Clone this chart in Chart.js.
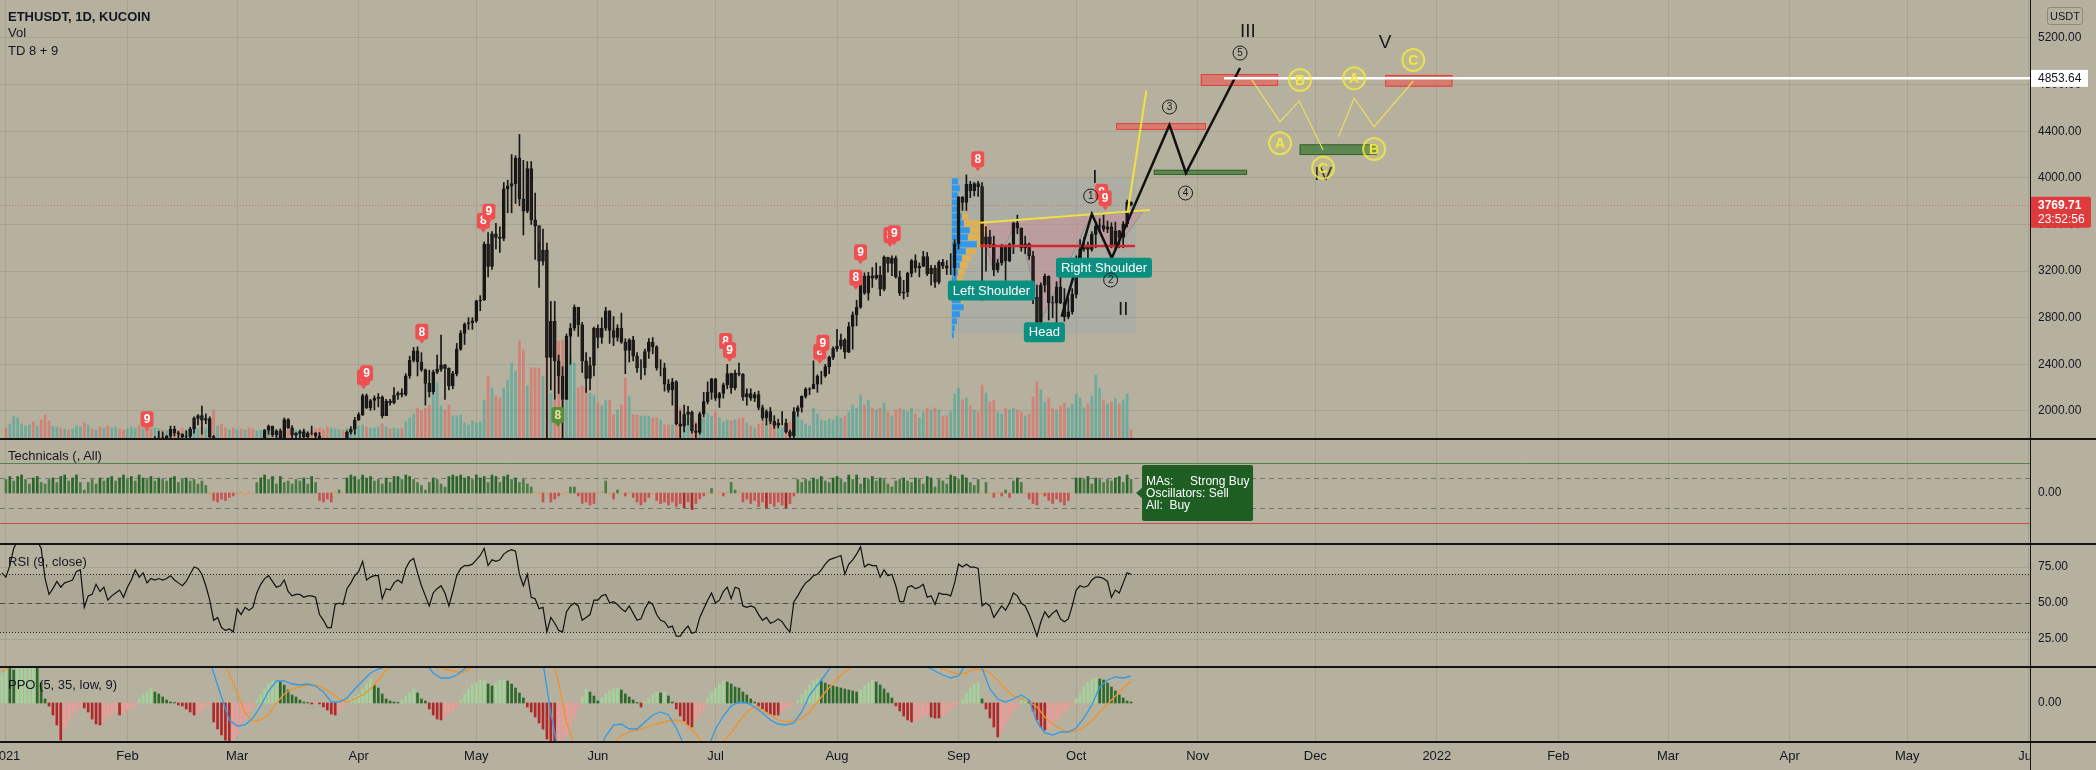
<!DOCTYPE html>
<html>
<head>
<meta charset="utf-8">
<title>ETHUSDT 1D</title>
<script src="https://cdn.jsdelivr.net/npm/chart.js@4.4.1/dist/chart.umd.min.js"></script>
<style>
  html, body { margin: 0; padding: 0; background: #b5b19e; }
  #wrap { position: relative; width: 2096px; height: 770px; overflow: hidden; background: #b5b19e;
          font-family: "Liberation Sans", Arial, sans-serif; color: #131722; }
  #wrap canvas { position: absolute; left: 0; }
  .sep { position: absolute; left: 0; width: 2096px; height: 2px; background: #141414; }
  .vline { position: absolute; left: 2030px; top: 0; width: 1px; height: 770px; background: #141414; }
  .txt { position: absolute; left: 8px; font-size: 13px; line-height: 16px; white-space: pre; }
  .usdt { position: absolute; left: 2047px; top: 7px; width: 34px; height: 16px; border: 1px solid rgba(0,0,0,0.22);
          border-radius: 3px; font-size: 11px; line-height: 16px; text-align: center; }
</style>
</head>
<body>
<div id="wrap">
  <canvas id="cMain" width="2096" height="438" style="top:0"></canvas>
  <canvas id="cTech" width="2096" height="104" style="top:440px"></canvas>
  <canvas id="cRsi" width="2096" height="122" style="top:545px"></canvas>
  <canvas id="cPpo" width="2096" height="102" style="top:668px"></canvas>
  <div class="sep" style="top:438px"></div>
  <div class="sep" style="top:543px"></div>
  <div class="sep" style="top:666px"></div>
  <div class="sep" style="top:741px"></div>
  <div class="vline"></div>
  <div class="txt" style="top:9px;font-weight:bold">ETHUSDT, 1D, KUCOIN</div>
  <div class="txt" style="top:25px">Vol</div>
  <div class="txt" style="top:43px">TD 8 + 9</div>
  <div class="txt" style="top:448px">Technicals (, All)</div>
  <div class="txt" style="top:554px">RSI (9, close)</div>
  <div class="txt" style="top:677px">PPO (5, 35, low, 9)</div>
  <div class="usdt">USDT</div>
</div>
<script>
// ---- time axis: x is the day number counted from 1 Jan 2021 ----
const monthTickDays = [0, 31, 59, 90, 120, 151, 181, 212, 243, 273, 304, 334, 365, 396, 424, 455, 485, 516];
const monthTickLabels = ['2021', 'Feb', 'Mar', 'Apr', 'May', 'Jun', 'Jul', 'Aug', 'Sep', 'Oct', 'Nov', 'Dec', '2022', 'Feb', 'Mar', 'Apr', 'May', 'Jun'];
const xMinDay = -1.5;
const xMaxDay = 516.3;

// ---- daily candles, 1 Jan .. 15 Oct 2021 ----
const firstOpen = 737;
const closes = [
  730,775,979,1041,1100,1208,1225,1224,1281,1262,1090,1044,1130,1218,1171,1233,1230,1257,1377,1382,1121,1236,1231,1392,1324,1357,1253,1331,1382,1377,1312,
  1374,1510,1660,1594,1718,1677,1614,1750,1770,1744,1784,1843,1813,1800,1780,1781,1845,1937,1960,1920,1934,1780,1571,1624,1475,1447,1460,1417,
  1565,1493,1575,1540,1532,1655,1723,1835,1870,1797,1826,1771,1926,1855,1792,1808,1823,1780,1811,1810,1785,1681,1670,1585,1594,1700,1714,1685,1818,1843,1920,
  1968,2133,2028,2090,2108,2116,1960,2084,2071,2135,2153,2141,2301,2434,2515,2420,2353,2237,2165,2333,2357,2395,2365,2215,2320,2531,2666,2746,2757,2773,
  2945,2950,3430,3240,3520,3490,3480,3905,3930,3950,4170,3820,3715,4080,3640,3590,3285,3380,2460,2770,2430,2300,2100,2640,2710,2890,2740,2430,2280,2390,2710,
  2630,2710,2860,2690,2630,2710,2590,2520,2610,2470,2370,2370,2510,2590,2550,2370,2370,2230,2180,2250,1890,1870,1970,1990,1830,1815,1975,2080,2160,2275,
  2110,2150,2225,2320,2200,2325,2315,2120,2150,2110,2140,2030,1940,1995,1910,1875,1895,1895,1820,1785,1995,2030,2125,2185,2190,2230,2300,2300,2380,2460,2535,
  2555,2610,2505,2725,2825,2890,3155,3010,3160,3140,3165,3045,3320,3265,3310,3150,3010,3020,3180,3290,3225,3240,3325,3175,3225,3105,3275,3245,3225,3225,3435,
  3835,3790,3945,3890,3950,3925,3430,3495,3430,3210,3270,3410,3290,3430,3610,3570,3400,3435,3330,2975,2760,3080,3155,2930,2925,3065,2930,2810,2850,3000,
  3310,3390,3420,3385,3515,3585,3590,3560,3580,3420,3545,3490,3605,3790,3769.71
];
const highs = [
  749,787,1010,1150,1130,1210,1280,1270,1300,1350,1265,1150,1140,1250,1250,1290,1250,1260,1440,1395,1390,1260,1270,1400,1475,1370,1375,1350,1430,1385,1380,
  1378,1540,1665,1695,1730,1750,1700,1780,1825,1820,1790,1870,1870,1825,1805,1830,1860,1950,1970,2042,1975,1950,1790,1710,1670,1550,1530,1480,
  1570,1600,1645,1610,1550,1675,1730,1840,1880,1870,1840,1845,1940,1935,1875,1815,1835,1845,1820,1870,1815,1815,1725,1740,1620,1706,1730,1725,1830,1865,1945,
  1985,2145,2145,2100,2130,2150,2130,2100,2100,2200,2165,2190,2320,2470,2545,2550,2500,2360,2350,2350,2480,2650,2400,2370,2340,2580,2690,2755,2800,2800,
  2950,2990,3450,3530,3540,3610,3580,3960,3980,4200,4190,4372,4150,4140,4140,3870,3450,3560,3440,2940,2940,2480,2380,2660,2750,2910,2890,2760,2500,2460,2720,
  2740,2800,2890,2860,2810,2740,2840,2620,2620,2640,2500,2440,2530,2620,2630,2560,2440,2410,2270,2280,2260,2000,2050,2040,2000,1890,1990,2160,2250,2280,
  2280,2160,2240,2400,2325,2350,2410,2320,2190,2190,2160,2170,2050,2010,2030,1960,1930,1995,1930,1835,2030,2045,2130,2200,2200,2430,2310,2340,2400,2470,2550,
  2700,2660,2620,2760,2850,2950,3180,3185,3190,3230,3270,3240,3330,3300,3330,3330,3200,3120,3190,3300,3340,3270,3370,3360,3250,3250,3290,3300,3290,3350,3470,
  3840,3840,4025,3970,3960,3970,3960,3580,3550,3500,3300,3430,3400,3440,3620,3680,3570,3500,3440,3370,3080,3100,3175,3160,2985,3110,3170,3050,2970,3050,
  3330,3470,3490,3450,3540,3620,3650,3680,3630,3615,3620,3550,3625,3810,3795
];
const lows = [
  716,714,765,900,990,1060,1170,1140,1190,1160,900,1010,1020,1110,1080,1160,1155,1180,1255,1260,1100,1050,1220,1225,1300,1250,1220,1215,1300,1310,1280,
  1300,1370,1500,1545,1590,1650,1500,1570,1695,1685,1720,1765,1785,1750,1650,1735,1760,1810,1880,1800,1890,1530,1370,1510,1470,1400,1430,1300,
  1410,1460,1485,1500,1440,1520,1630,1710,1800,1780,1770,1730,1750,1850,1770,1730,1765,1760,1770,1795,1740,1670,1660,1580,1548,1590,1680,1670,1680,1800,1800,
  1920,1960,2020,2005,2010,2035,1940,1960,2050,2060,2100,2120,2130,2280,2420,2300,2340,2050,2120,2145,2320,2340,2100,2180,2190,2300,2520,2570,2700,2700,
  2760,2860,2950,3150,3215,3390,3360,3460,3700,3700,3780,3760,3510,3700,3600,3300,3060,3250,1760,2180,2100,2150,1730,2100,2400,2690,2640,2330,2160,2180,2300,
  2540,2580,2690,2580,2560,2600,2580,2320,2420,2430,2330,2270,2310,2450,2490,2350,2300,2170,2160,2050,1880,1700,1820,1880,1810,1720,1800,1950,2060,2100,
  2090,2030,2110,2190,2150,2180,2300,2090,2050,2090,2080,2010,1920,1880,1890,1850,1855,1880,1810,1720,1760,1955,1990,2110,2140,2190,2160,2230,2290,2320,2440,
  2510,2530,2450,2500,2530,2730,2880,3000,2950,3060,3130,2990,3030,3190,3160,3140,2990,2960,2980,3150,3190,3150,3240,3160,3080,3060,3090,3220,3170,3170,3160,
  3390,3720,3720,3830,3845,3840,2950,3200,3400,3160,3190,3250,3120,3280,3350,3520,3370,3350,3300,2920,2740,2740,3020,2780,2800,2750,2920,2770,2790,2830,
  2970,3270,3370,3280,3370,3400,3530,3540,3530,3400,3390,3400,3400,3580,3760
];
// volume, in pixel-height units of the price pane
const volumes = [
  10,14,22,20,14,12,13,16,12,18,23,17,12,11,10,9,8,9,12,11,15,13,9,8,11,10,12,10,11,9,8,
  9,11,10,12,9,8,9,10,9,8,7,8,9,8,10,8,8,10,9,11,10,16,28,12,14,10,8,10,
  8,9,8,10,9,7,8,9,8,7,8,9,10,8,9,8,7,8,7,8,9,10,8,11,10,9,8,8,10,9,11,
  12,13,11,10,10,11,14,11,9,10,9,10,16,20,24,30,27,30,33,53,55,32,28,33,22,22,23,15,13,17,
  15,16,38,62,50,42,40,50,58,75,67,97,88,52,70,70,70,62,80,45,38,97,98,100,82,75,50,52,50,45,43,
  35,32,38,38,23,28,33,60,42,23,23,22,22,22,20,20,18,13,13,13,28,30,25,20,18,16,18,20,25,22,
  26,20,16,18,17,18,19,20,15,12,10,14,16,14,15,16,11,10,14,16,26,22,18,14,12,30,24,18,17,19,18,
  22,20,22,26,33,30,43,33,38,30,28,30,35,26,22,28,30,28,26,30,24,20,26,30,28,30,28,22,22,26,44,
  50,38,40,32,28,26,53,45,36,38,26,24,30,28,30,28,26,22,24,41,56,48,36,40,30,28,32,35,30,34,
  44,40,30,34,42,63,50,38,34,36,39,34,38,44,8
];
const volMax = 438;
const priceMin = 1768;
const priceMax = 5526;
const priceTicks = [2000, 2400, 2800, 3200, 3600, 4000, 4400, 4800, 5200];
const lastPrice = 3769.71;
const countdown = '23:52:56';
const targetPrice = 4853.64;
const targetStartDay = 310.7;

// ---- TD sequential marks ----
const tdDays = [36, 91.2, 92, 106.1, 121.8, 123.2, 140.8, 183.6, 184.6, 207.6, 208.4, 216.8, 218, 225.5, 226.6, 247.9, 279.5, 280.4];
const tdPrices = [1929, 2290, 2323, 2680, 3633, 3710, 1966, 2600, 2523, 2509, 2585, 3144, 3361, 3510, 3524, 4159, 3881, 3825];
const tdTexts = ['9', '8', '9', '8', '8', '9', '8', '8', '9', '8', '9', '8', '9', '8', '9', '8', '8', '9'];
const tdKinds = ['sell', 'sell', 'sell', 'sell', 'sell', 'sell', 'buy', 'sell', 'sell', 'sell', 'sell', 'sell', 'sell', 'sell', 'sell', 'sell', 'sell', 'sell'];

// ---- drawings (day, price) ----
const waveDays = [269.3, 277, 282.1, 296.8, 301, 314.8];
const wavePrices = [2809, 3690, 3313, 4454, 4042, 4943];
const waveLabels = ['1', '2', '3', '4', '5'];
const waveLabelDays = [276.7, 281.8, 296.8, 300.9, 314.8];
const waveLabelPrices = [3844, 3124, 4608, 3870, 5071];
const romanTexts = ['I', 'II', 'III', 'IV', 'V'];
const romanDays = [277.8, 285, 316.8, 336, 351.8];
const romanPrices = [3999, 2866, 5251, 4025, 5157];
const abcTexts = ['A', 'B', 'C', 'A', 'B', 'C'];
const abcDays = [325, 330.1, 336, 343.9, 349, 359];
const abcPrices = [4297, 4840, 4087, 4854, 4248, 5011];
const abcPath1Days = [317.8, 325, 329.9, 336];
const abcPath1Prices = [4840, 4482, 4660, 4239];
const abcPath2Days = [339.9, 343.9, 349, 359];
const abcPath2Prices = [4353, 4683, 4439, 4831];
const breakoutDays = [286.1, 290.9];
const breakoutPrices = [3699, 4751];
const necklineDays = [248.5, 291.8];
const necklinePrices = [3615, 3724];
const pocDays = [248.5, 288];
const pocPrice = 3416;
const zoneDays0 = [283.2, 292.8, 304.8, 351.8, 330];
const zoneDays1 = [306.1, 316.6, 324.5, 369, 349.7];
const zoneTops = [4470, 4069, 4891, 4883, 4288];
const zoneBottoms = [4411, 4025, 4788, 4782, 4196];
const zoneKinds = ['sell', 'buy', 'sell', 'sell', 'buy'];
const patternTexts = ['Left Shoulder', 'Head', 'Right Shoulder'];
const patternDays = [251.4, 264.9, 280.1];
const patternPrices = [3034, 2676, 3228];
const hsDays = [248.5, 251.8, 257.8, 264.5, 277, 281.6, 290];
const hsPrices = [3615, 3210, 3624, 2809, 3690, 3313, 3710];
const boxDays = [241.3, 288.3];
const boxPrices = [3999, 2661];
const vpTop = 4000;
const vpStep = 60;
const vpDaysPerUnit = 0.255;
const vpUp = [6, 8, 6, 8, 7, 10, 12, 18, 16, 25, 14, 10, 8, 6, 5, 4, 6, 9, 12, 8, 5, 3, 2];
const vpDown = [0, 0, 0, 0, 2, 6, 22, 18, 16, 10, 10, 9, 8, 7, 6, 5, 3, 2, 1, 0, 0, 0, 0];

// ---- Technicals rating, day 0 .. 287 ----
const techValues = [
  0.45,0.55,0.4,0.55,0.6,0.45,0.3,0.5,0.55,0.35,0.3,0.45,0.5,0.35,0.55,0.6,0.4,0.5,0.6,0.35,0.1,0.35,0.45,0.3,0.5,0.4,0.5,0.55,0.4,0.5,0.6,0.45,0.55,0.4,0.6,0.5,0.45,0.55,0.4,0.5,0.45,0.4,0.5,0.55,0.35,0.45,0.5,0.4,0.45,0.3,0.4,0.25,
  -0.05,-0.25,-0.3,-0.2,-0.25,-0.15,-0.1,-0.05,0.05,-0.05,0.05,-0.03,
  0.35,0.5,0.6,0.45,0.55,0.3,0.55,0.35,0.4,0.3,0.45,0.4,0.5,0.3,0.55,0.35,
  -0.25,-0.3,-0.2,-0.3,0.05,0.1,0.03,
  0.5,0.6,0.55,0.45,0.6,0.5,0.55,0.4,0.45,
  0.3,0.5,0.35,0.55,0.55,0.45,0.6,0.55,0.45,0.35,0.25,0.1,0.35,0.5,0.45,0.3,0.2,0.55,0.6,0.55,0.6,0.5,0.55,0.45,0.6,0.5,0.55,0.35,0.6,0.55,0.35,0.55,0.6,0.45,0.5,0.35,0.45,0.3,0.2,0.05,
  -0.05,-0.3,-0.05,-0.3,-0.2,-0.1,-0.05,0.05,0.2,0.2,-0.1,-0.35,-0.3,-0.4,-0.35,
  0.02,0.05,0.4,-0.05,-0.2,0.1,-0.03,-0.1,0.03,-0.15,-0.3,-0.4,-0.3,-0.15,-0.05,
  -0.25,-0.35,-0.3,-0.4,-0.3,-0.45,-0.35,-0.5,-0.3,-0.55,-0.35,-0.2,-0.1,
  0.03,0.15,-0.03,0.05,-0.1,0.02,0.35,0.1,0.05,
  -0.3,-0.2,-0.35,-0.25,-0.45,-0.3,-0.5,-0.35,-0.45,-0.3,-0.4,-0.5,-0.35,-0.1,
  0.45,0.35,0.45,0.4,0.5,0.45,0.55,0.4,0.35,0.5,0.55,0.45,0.35,0.6,0.45,0.6,0.3,0.5,0.45,0.55,0.4,0.5,0.45,0.3,0.2,0.4,0.45,0.5,0.4,0.35,0.5,0.45,0.3,0.55,0.5,0.2,0.45,0.4,0.3,0.6,0.55,0.45,0.6,0.5,0.35,0.25,0.45,
  0.02,0.35,-0.03,-0.15,0.05,-0.1,0.1,-0.15,0.4,0.5,0.35,
  -0.03,-0.2,-0.35,-0.4,-0.05,-0.1,-0.25,-0.35,-0.2,-0.3,-0.4,-0.25,
  0.02,
  0.5,0.5,0.45,0.55,0.3,0.5,0.45,0.35,0.45,0.4,0.5,0.55,0.35,0.6,0.45
];
const techLevels = [1, 0.5, -0.5, -1];
const techSummary = ['MAs:     Strong Buy', 'Oscillators: Sell', 'All:  Buy'];

// ---- RSI (9), day -1 .. 287 ----
const rsiStartDay = -1;
const rsiValues = [
  71,68,76,88,93,94,93,92,91,93,88,67,
  56,60,65,61,64,65,66,72,73,47,55,56,63,58,61,52,55,57,59,54,
  61,66,73,68,71,64,67,66,67,66,67,69,66,64,62,65,70,75,74,70,
  62,52,38,40,33,31,32,30,46,42,47,45,47,57,63,67,69,65,61,62,
  66,58,55,56,56,54,55,55,54,42,38,33,33,49,50,49,60,64,69,72,79,66,68,69,69,
  53,60,59,64,66,64,74,79,81,71,62,55,48,57,60,62,57,48,58,69,74,76,76,77,80,
  83,88,76,80,79,80,84,86,87,86,70,62,70,54,53,46,47,30,40,36,31,30,44,48,50,
  48,38,40,42,52,52,55,56,50,51,49,46,44,48,43,38,39,46,51,49,42,38,37,33,34,
  27,27,31,34,29,30,40,46,52,57,50,52,58,61,53,61,60,48,47,48,47,42,38,40,36,
  37,39,37,33,30,51,55,60,64,66,69,70,73,77,80,81,82,83,70,77,80,84,89,75,77,
  76,76,68,73,69,70,62,51,51,61,62,60,61,63,54,55,49,57,56,56,55,64,77,75,77,
  75,75,74,48,50,48,40,44,48,45,50,57,55,50,48,42,35,27,37,44,40,43,45,39,37,
  39,48,59,62,61,62,66,68,68,67,65,54,59,57,64,71,70
];
const rsiTicks = [25, 50, 75];
const rsiUpper = 70;
const rsiMid = 50;
const rsiLower = 30;

// ---- PPO (5, 35, low, 9) ----
const ppoStartDay = -1;
const ppoHist = [
  3.0,3.6,3.5,3.3,3.6,3.8,4.0,4.2,4.4,3.8,2.0,0.4,-0.3,
  -1.2,-2.2,-3.7,-2.6,-1.9,-1.2,-0.9,-0.3,
  -0.5,-0.9,-1.6,-2.1,-2.2,-1.9,-1.4,-1.2,-0.7,-1.2,-1.1,-0.7,-0.5,-0.3,
  0.4,0.8,1.1,1.5,1.1,0.9,0.6,0.3,0.1,0.05,
  -0.2,-0.3,-0.6,-0.9,-1.2,-1.1,-0.7,-0.3,
  -0.2,-1.9,-2.6,-3.2,-3.7,-3.9,-3.7,-3.2,-2.2,-1.6,-1.1,-0.4,
  0.3,0.8,1.4,1.9,2.2,2.3,2.1,1.8,1.3,0.8,0.6,0.3,0.1,0.05,-0.1,-0.05,
  -0.1,-0.4,-0.7,-1.1,-1.2,-0.9,-0.4,-0.1,
  0.4,0.6,0.9,1.4,1.9,2.4,
  1.8,1.5,0.9,0.4,0.2,0.1,0.05,
  0.3,0.7,1.0,1.4,1.0,0.4,0.2,
  -0.6,-1.2,-1.6,-1.7,-1.4,-1.1,-0.8,-0.4,
  0.3,0.9,1.4,1.9,2.0,2.3,2.3,1.9,1.7,2.0,2.3,2.3,2.2,1.9,1.5,1.0,0.5,
  -0.4,-0.9,-1.4,-2.0,-2.6,-3.6,-4.0,-4.2,-4.0,-3.9,-3.2,-2.4,-1.5,-0.5,
  0.6,1.4,1.1,0.7,0.2,
  0.5,0.9,1.2,1.4,1.5,1.3,0.9,0.6,0.3,0.05,
  -0.4,
  0.1,0.4,0.8,1.1,1.0,1.1,0.7,0.1,
  -0.6,-1.3,-1.8,-2.2,-2.4,-1.8,-1.2,-0.6,
  0.5,1.0,1.5,1.9,2.2,2.1,1.9,1.6,1.5,1.1,0.8,0.4,0.1,
  -0.3,-0.6,-0.9,-1.1,-1.2,-1.2,-0.9,-0.6,-0.3,-0.1,
  0.3,0.8,1.3,1.8,2.2,2.4,2.2,2.0,1.8,1.7,1.6,1.5,1.4,1.3,1.2,1.1,
  1.3,1.7,2.0,2.3,2.1,1.8,1.4,1.0,0.5,
  -0.3,-0.8,-1.3,-1.7,-1.9,-1.8,-1.6,-1.3,-1.2,-1.4,-1.5,-1.5,-1.3,-1.1,-0.7,-0.3,-0.1,
  0.4,1.0,1.5,1.9,2.1,0.4,
  -0.6,-1.5,-2.4,-3.4,-2.8,-2.2,-1.5,-0.9,-0.4,
  0.3,0.6,0.2,
  -0.8,-1.7,-2.4,-2.7,-2.6,-2.2,-1.8,-1.4,-1.0,-0.6,-0.2,
  0.4,1.0,1.6,2.1,2.4,2.5,2.4,2.3,2.0,1.6,1.2,0.8,0.5,0.2,0.1
];
// PPO and signal lines, read every second day from day -1
const ppoLineStep = 2;
const ppoLine = [
  9,10,12,13,13,12,10,8,7,6.5,6,5.5,5.5,5.5,5.5,5.5,6.5,7.5,8,8.5,8.5,8,7.5,7,7.5,7.5,5.5,
  3.0,0.6,-1.7,-2.3,-2.2,-1.5,-0.3,1.2,2.2,2.2,1.9,1.8,1.9,1.7,1.1,0.1,0.1,0.5,1.4,2.2,3.0,3.4,
  3.6,4.2,4.8,5,5,4,3.0,2.5,2.5,2.8,3.4,4.5,6,7.5,8,9,10,9.5,8,6.5,4,-1,-5,-7,-7,-7,-6.5,-5,-3.3,-2.2,
  -2.1,-2.6,-2.6,-1.9,-1.2,-0.9,-1.2,-2.5,-4.2,-5,-5,-4.6,-2.6,-1.3,-0.3,0.1,0.0,-0.4,-1.0,-1.7,
  -2.1,-2.2,-2.0,-0.9,0.8,1.8,2.8,4.0,5.5,6.5,7,7.5,7.5,7,6.5,5.5,4.5,4,3.8,3.6,
  3.2,2.8,2.5,2.7,4,5,3.5,1.4,0.4,0.1,0.4,0.8,0.3,-1.9,-3.0,-3.2,-2.9,-2.9,-2.5,-1.5,
  -0.2,1.6,2.3,2.6,2.5,2.7
];
const ppoSignal = [
  3.1,3.6,4.5,6,7.5,8.5,9,9,8.5,8,7.5,7,6.5,6,6,6,6,6.5,7,7.3,7.6,7.8,7.8,7.6,7.5,7.5,7,
  6,4.4,2.9,1.0,-1.0,-1.8,-1.7,-1.2,0.0,0.9,1.4,1.6,1.8,1.8,1.5,1.0,0.4,0.1,0.4,0.8,1.4,2.3,
  3.3,3.7,4.2,4.4,4.5,4.3,3.8,3.5,3.3,3.1,3.1,3.6,4.5,5.5,6.3,7,8,8.5,8.5,8,7,5.0,2.0,-1.9,-4.3,-5.3,-5.8,-5.5,-4.8,-4.0,
  -3.3,-2.9,-2.7,-2.5,-2.2,-2.0,-1.8,-1.7,-1.9,-2.7,-3.6,-4.3,-4.4,-3.8,-3.0,-1.9,-0.9,-0.4,-0.7,-1.2,
  -1.7,-1.9,-1.8,-1.6,-0.9,0.1,1.1,2.0,2.8,3.4,4.2,5,5.5,5.8,6,6,5.8,5.3,4.8,4.3,
  3.8,3.4,3.1,2.9,3.0,3.4,3.3,3.0,2.3,1.4,0.7,0.4,0.1,-0.4,-1.4,-2.1,-2.6,-2.9,-2.8,-2.4,
  -1.8,-0.9,-0.1,0.7,1.5,2.2
];

// ---- look ----
const bg = '#b5b19e';
const gridColor = 'rgba(95,92,80,0.16)';
const textColor = '#131722';
const axisWidth = 66;
const fontFamily = '"Liberation Sans", Arial, sans-serif';

Chart.defaults.font.family = fontFamily;
Chart.defaults.color = textColor;

function xAxis(showLabels) {
  return {
    type: 'linear', min: xMinDay, max: xMaxDay, offset: false,
    afterBuildTicks: s => { s.ticks = monthTickDays.map(v => ({ value: v })); },
    grid: { color: gridColor, drawTicks: false, offset: false },
    border: { display: false },
    ticks: showLabels ? {
      autoSkip: false, maxRotation: 0, padding: 7, color: textColor, font: { size: 13 },
      callback: v => monthTickLabels[monthTickDays.indexOf(v)]
    } : { display: false },
    afterFit: s => { s.height = showLabels ? 28 : 0; s.paddingLeft = 0; s.paddingRight = 0; }
  };
}

function yAxis(min, max, ticks, showGrid) {
  return {
    position: 'right', min, max,
    afterBuildTicks: s => { s.ticks = ticks.map(v => ({ value: v })); },
    grid: { color: gridColor, drawTicks: false, display: showGrid },
    border: { display: false },
    ticks: { color: textColor, font: { size: 12 }, padding: 8, callback: v => v.toFixed(2) },
    afterFit: s => { s.width = axisWidth; s.paddingTop = 0; s.paddingBottom = 0; }
  };
}

const baseOptions = {
  responsive: false, animation: false, devicePixelRatio: 1, events: [],
  layout: { padding: 0, autoPadding: false },
  plugins: { legend: { display: false }, tooltip: { enabled: false } }
};

function points(days, values) {
  return days.map((d, i) => ({ x: d, y: values[i] }));
}

function lineSet(data, color, width) {
  return { type: 'line', data, borderColor: color, borderWidth: width, pointRadius: 0, tension: 0, fill: false, order: 0 };
}

// ---- price pane ----
const opens = closes.map((c, i) => i ? closes[i - 1] : firstOpen);
const isUp = closes.map((c, i) => c >= opens[i]);

function tdMarker(ctx, cx, cy, text, buy) {
  const w = 13, h = 16;
  ctx.fillStyle = buy ? '#5d8c3c' : '#ef4f4f';
  ctx.beginPath(); ctx.roundRect(cx - w / 2, cy - h / 2, w, h, 3); ctx.fill();
  ctx.beginPath(); ctx.moveTo(cx - 3, cy + h / 2); ctx.lineTo(cx + 3, cy + h / 2); ctx.lineTo(cx, cy + h / 2 + 4); ctx.fill();
  ctx.fillStyle = buy ? '#e4e7a6' : '#ffffff';
  ctx.font = 'bold 12px ' + fontFamily;
  ctx.textAlign = 'center'; ctx.textBaseline = 'middle';
  ctx.fillText(text, cx, cy + 0.5);
}

const mainDrawings = {
  id: 'mainDrawings',
  beforeDatasetsDraw(chart) {
    const { ctx, chartArea: a, scales: { x, y } } = chart;
    const px = d => x.getPixelForValue(d), py = p => y.getPixelForValue(p);
    ctx.save();
    ctx.beginPath(); ctx.rect(a.left, a.top, a.width, a.height); ctx.clip();

    // last price line
    const ly = Math.round(py(lastPrice)) + 0.5;
    ctx.strokeStyle = 'rgba(205,70,70,0.6)'; ctx.lineWidth = 1; ctx.setLineDash([1, 2]);
    ctx.beginPath(); ctx.moveTo(a.left, ly); ctx.lineTo(a.right, ly); ctx.stroke();
    ctx.setLineDash([]);

    // fixed range box
    const bx0 = px(boxDays[0]), bx1 = px(boxDays[1]), by0 = py(boxPrices[0]), by1 = py(boxPrices[1]);
    ctx.fillStyle = 'rgba(140,165,180,0.22)';
    ctx.fillRect(bx0, by0, bx1 - bx0, by1 - by0);

    // head and shoulders shading
    ctx.beginPath();
    hsDays.forEach((d, i) => i ? ctx.lineTo(px(d), py(hsPrices[i])) : ctx.moveTo(px(d), py(hsPrices[i])));
    ctx.closePath();
    ctx.fillStyle = 'rgba(222,120,150,0.32)'; ctx.fill();
    ctx.strokeStyle = 'rgba(110,125,135,0.55)'; ctx.lineWidth = 1; ctx.stroke();

    // volume profile rows
    vpUp.forEach((u, i) => {
      const t = py(vpTop - i * vpStep), b = py(vpTop - (i + 1) * vpStep);
      const xu = px(boxDays[0] + u * vpDaysPerUnit);
      const xd = px(boxDays[0] + (u + vpDown[i]) * vpDaysPerUnit);
      ctx.fillStyle = 'rgba(33,150,243,0.9)'; ctx.fillRect(bx0, t + 0.5, xu - bx0, b - t - 1);
      ctx.fillStyle = 'rgba(238,178,60,0.8)'; ctx.fillRect(xu, t + 0.5, xd - xu, b - t - 1);
    });

    // supply and demand zones
    zoneDays0.forEach((d, i) => {
      const x0 = px(d), x1 = px(zoneDays1[i]), y0 = py(zoneTops[i]), y1 = py(zoneBottoms[i]);
      const sell = zoneKinds[i] === 'sell';
      ctx.fillStyle = sell ? 'rgba(226,104,92,0.75)' : 'rgba(72,124,60,0.8)';
      ctx.strokeStyle = sell ? 'rgba(225,60,60,0.9)' : 'rgba(45,95,40,0.9)';
      ctx.fillRect(x0, y0, x1 - x0, y1 - y0);
      ctx.strokeRect(x0 + 0.5, y0 + 0.5, x1 - x0 - 1, y1 - y0 - 1);
    });
    ctx.restore();
  },
  afterDatasetsDraw(chart) {
    const { ctx, chartArea: a, scales: { x, y } } = chart;
    const px = d => x.getPixelForValue(d), py = p => y.getPixelForValue(p);
    ctx.save();
    ctx.beginPath(); ctx.rect(a.left, a.top, a.width, a.height); ctx.clip();

    tdDays.forEach((d, i) => tdMarker(ctx, px(d), py(tdPrices[i]), tdTexts[i], tdKinds[i] === 'buy'));

    // pattern callouts
    ctx.font = '13px ' + fontFamily; ctx.textAlign = 'center'; ctx.textBaseline = 'middle';
    patternTexts.forEach((t, i) => {
      const cx = px(patternDays[i]), cy = py(patternPrices[i]);
      const w = ctx.measureText(t).width + 10, h = 20;
      ctx.fillStyle = '#0a8f80';
      ctx.beginPath(); ctx.roundRect(cx - w / 2, cy - h / 2, w, h, 3); ctx.fill();
      ctx.fillStyle = '#ffffff'; ctx.fillText(t, cx, cy + 0.5);
    });

    // circled wave counts
    waveLabels.forEach((t, i) => {
      const cx = px(waveLabelDays[i]), cy = py(waveLabelPrices[i]);
      ctx.strokeStyle = '#1a1a1a'; ctx.lineWidth = 1;
      ctx.beginPath(); ctx.arc(cx, cy, 7, 0, Math.PI * 2); ctx.stroke();
      ctx.fillStyle = '#1a1a1a'; ctx.font = '10px ' + fontFamily; ctx.fillText(t, cx, cy + 0.5);
    });

    // roman wave degrees
    ctx.font = '19px ' + fontFamily; ctx.fillStyle = '#1a1a1a';
    romanTexts.forEach((t, i) => ctx.fillText(t, px(romanDays[i]), py(romanPrices[i])));

    // yellow ABC circles
    abcTexts.forEach((t, i) => {
      const cx = px(abcDays[i]), cy = py(abcPrices[i]);
      ctx.fillStyle = 'rgba(245,232,70,0.14)'; ctx.strokeStyle = 'rgba(245,232,70,0.8)'; ctx.lineWidth = 2;
      ctx.beginPath(); ctx.arc(cx, cy, 11, 0, Math.PI * 2); ctx.fill(); ctx.stroke();
      ctx.fillStyle = '#f4e545'; ctx.font = 'bold 14px ' + fontFamily; ctx.fillText(t, cx, cy + 1);
    });
    ctx.restore();
  },
  afterDraw(chart) {
    const { ctx, chartArea: a, scales: { y } } = chart;
    ctx.save();
    ctx.textAlign = 'left'; ctx.textBaseline = 'middle'; ctx.font = '12px ' + fontFamily;
    const ty = y.getPixelForValue(targetPrice);
    ctx.fillStyle = '#ffffff'; ctx.fillRect(a.right, ty - 8.5, 58, 17);
    ctx.fillStyle = textColor; ctx.fillText(targetPrice.toFixed(2), a.right + 8, ty + 0.5);
    const ly = y.getPixelForValue(lastPrice);
    ctx.fillStyle = '#e0393b';
    ctx.beginPath(); ctx.roundRect(a.right, ly - 8, 61, 31, 2); ctx.fill();
    ctx.fillStyle = '#ffffff'; ctx.font = 'bold 12px ' + fontFamily;
    ctx.fillText(lastPrice.toFixed(2), a.right + 8, ly + 1);
    ctx.font = '12px ' + fontFamily;
    ctx.fillText(countdown, a.right + 8, ly + 15);
    ctx.restore();
  }
};

new Chart(document.getElementById('cMain'), {
  type: 'bar',
  data: {
    datasets: [
      lineSet(points([targetStartDay, xMaxDay], [targetPrice, targetPrice]), '#ffffff', 2.5),
      lineSet(points(waveDays, wavePrices), '#111111', 2.5),
      lineSet(points(breakoutDays, breakoutPrices), '#f2e23c', 2),
      lineSet(points(necklineDays, necklinePrices), '#efe046', 2),
      lineSet(points(pocDays, [pocPrice, pocPrice]), '#d4282c', 2.5),
      lineSet(points(abcPath1Days, abcPath1Prices), 'rgba(240,226,90,0.9)', 1.2),
      lineSet(points(abcPath2Days, abcPath2Prices), 'rgba(240,226,90,0.9)', 1.2),
      {
        type: 'bar', order: 1, grouped: false, barThickness: 3, borderWidth: 1, borderSkipped: false,
        data: closes.map((c, i) => ({ x: i, y: [opens[i], c] })),
        backgroundColor: isUp.map(u => u ? 'rgba(0,0,0,0)' : 'rgba(70,45,40,0.35)'),
        borderColor: '#161616'
      },
      {
        type: 'bar', order: 2, grouped: false, barThickness: 1,
        data: closes.map((c, i) => ({ x: i, y: [lows[i], highs[i]] })),
        backgroundColor: '#161616'
      },
      {
        type: 'bar', order: 3, grouped: false, barThickness: 2, yAxisID: 'yVol',
        data: volumes.map((v, i) => ({ x: i, y: v })),
        backgroundColor: isUp.map(u => u ? 'rgba(38,166,154,0.5)' : 'rgba(239,83,80,0.5)')
      }
    ]
  },
  options: {
    ...baseOptions,
    scales: {
      x: xAxis(false),
      y: yAxis(priceMin, priceMax, priceTicks, true),
      yVol: { display: false, min: 0, max: volMax }
    }
  },
  plugins: [mainDrawings]
});

// ---- Technicals pane ----
const techColors = techValues.map(v => v >= 0.1 ? (v >= 0.5 ? '#2a662c' : '#4a7d45')
  : v <= -0.1 ? (v <= -0.5 ? '#b02a2a' : '#c95252') : '#d49b5c');

const techDrawings = {
  id: 'techDrawings',
  beforeDatasetsDraw(chart) {
    const { ctx, chartArea: a, scales: { y } } = chart;
    ctx.save();
    techLevels.forEach(v => {
      const ly = Math.round(y.getPixelForValue(v)) + 0.5;
      ctx.lineWidth = 1;
      if (Math.abs(v) === 1) { ctx.setLineDash([]); ctx.strokeStyle = v > 0 ? 'rgba(70,125,70,0.9)' : 'rgba(200,70,70,0.9)'; }
      else { ctx.setLineDash([5, 4]); ctx.strokeStyle = 'rgba(80,80,80,0.6)'; }
      ctx.beginPath(); ctx.moveTo(a.left, ly); ctx.lineTo(a.right, ly); ctx.stroke();
    });
    ctx.restore();
  },
  afterDraw(chart) {
    const { ctx, scales: { x, y } } = chart;
    const x0 = x.getPixelForValue(techValues.length - 1) + 11, yc = y.getPixelForValue(0);
    ctx.save();
    ctx.fillStyle = '#1e5e22';
    ctx.beginPath(); ctx.roundRect(x0, yc - 28, 111, 56, 2); ctx.fill();
    ctx.beginPath(); ctx.moveTo(x0 + 1, yc - 6); ctx.lineTo(x0 - 6, yc); ctx.lineTo(x0 + 1, yc + 6); ctx.fill();
    ctx.fillStyle = '#ffffff'; ctx.font = '12px ' + fontFamily; ctx.textAlign = 'left'; ctx.textBaseline = 'middle';
    techSummary.forEach((t, i) => ctx.fillText(t, x0 + 4, yc - 11 + i * 12));
    ctx.restore();
  }
};

new Chart(document.getElementById('cTech'), {
  type: 'bar',
  data: {
    datasets: [{
      grouped: false, barThickness: 2,
      data: techValues.map((v, i) => ({ x: i, y: v })),
      backgroundColor: techColors
    }]
  },
  options: {
    ...baseOptions,
    scales: { x: xAxis(false), y: yAxis(-1.7, 1.767, [0], false) }
  },
  plugins: [techDrawings]
});

// ---- RSI pane ----
const rsiBands = {
  id: 'rsiBands',
  beforeDatasetsDraw(chart) {
    const { ctx, chartArea: a, scales: { y } } = chart;
    const yu = y.getPixelForValue(rsiUpper), yl = y.getPixelForValue(rsiLower), ym = y.getPixelForValue(rsiMid);
    ctx.save();
    ctx.fillStyle = 'rgba(120,112,100,0.13)';
    ctx.fillRect(a.left, yu, a.width, yl - yu);
    ctx.strokeStyle = '#262626'; ctx.lineWidth = 1; ctx.setLineDash([1, 2]);
    [yu, yl].forEach(v => { ctx.beginPath(); ctx.moveTo(a.left, Math.round(v) + 0.5); ctx.lineTo(a.right, Math.round(v) + 0.5); ctx.stroke(); });
    ctx.setLineDash([5, 4]); ctx.strokeStyle = 'rgba(50,50,50,0.75)';
    ctx.beginPath(); ctx.moveTo(a.left, Math.round(ym) + 0.5); ctx.lineTo(a.right, Math.round(ym) + 0.5); ctx.stroke();
    ctx.restore();
  }
};

new Chart(document.getElementById('cRsi'), {
  type: 'line',
  data: {
    datasets: [{
      data: rsiValues.map((v, i) => ({ x: rsiStartDay + i, y: v })),
      borderColor: '#111111', borderWidth: 1.2, pointRadius: 0, tension: 0, fill: false
    }]
  },
  options: {
    ...baseOptions,
    scales: { x: xAxis(false), y: yAxis(5.6, 90.3, rsiTicks, true) }
  },
  plugins: [rsiBands]
});

// ---- PPO pane with time axis ----
const ppoColors = ppoHist.map((v, i) => {
  const prev = i ? ppoHist[i - 1] : v;
  if (v >= 0) return v >= prev ? '#a3d39a' : '#2b6a2a';
  return v <= prev ? '#b3262a' : '#ee9a98';
});

const timeAxisEdge = {
  id: 'timeAxisEdge',
  afterDraw(chart) {
    const { ctx, chartArea: a } = chart;
    ctx.save();
    ctx.fillStyle = bg;
    ctx.fillRect(a.right + 1, a.bottom + 1, chart.width - a.right, chart.height - a.bottom);
    ctx.restore();
  }
};

new Chart(document.getElementById('cPpo'), {
  type: 'bar',
  data: {
    datasets: [
      lineSet(ppoLine.map((v, i) => ({ x: ppoStartDay + i * ppoLineStep, y: v })), '#2f9be8', 1.3),
      lineSet(ppoSignal.map((v, i) => ({ x: ppoStartDay + i * ppoLineStep, y: v })), '#f0932b', 1.3),
      {
        type: 'bar', order: 1, grouped: false, barThickness: 2,
        data: ppoHist.map((v, i) => ({ x: ppoStartDay + i, y: v })),
        backgroundColor: ppoColors
      }
    ]
  },
  options: {
    ...baseOptions,
    scales: { x: xAxis(true), y: yAxis(-3.9, 3.5, [0], false) }
  },
  plugins: [timeAxisEdge]
});
</script>
</body>
</html>
